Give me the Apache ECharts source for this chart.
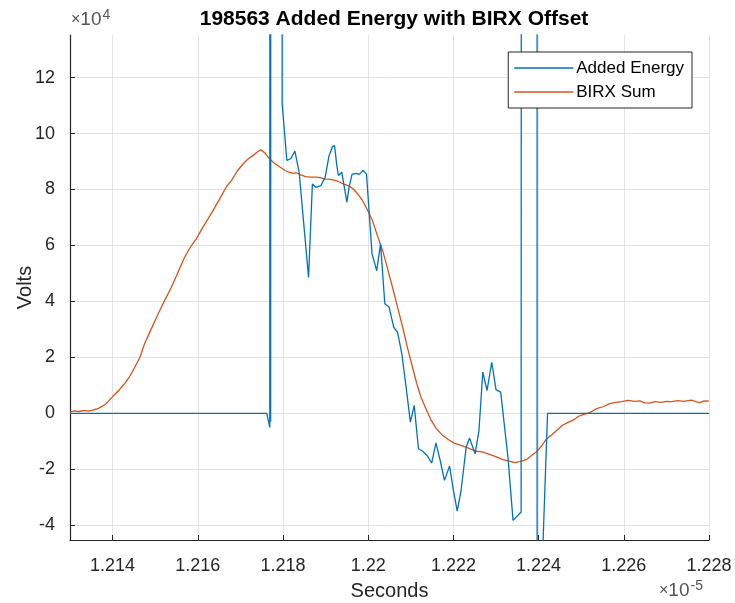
<!DOCTYPE html>
<html>
<head>
<meta charset="utf-8">
<script src="https://cdn.jsdelivr.net/npm/echarts@6/dist/echarts.min.js"></script>
<style>
  html, body { margin: 0; padding: 0; background: #ffffff; }
  #chart { width: 735px; height: 603px; }
</style>
</head>
<body>
<div id="chart"></div>
<script>
// Time axis in units of 1e-5 s (exponent shown separately as ×10^-5)
// Voltage in volts (axis labels shown in units of 1e4)

// Added Energy trace; ±1e6 marks the clipped excursions beyond the plot range
const energyTime = [
  1.21300, 1.21762, 1.21769, 1.21770, 1.21771, 1.21772, 1.21797, 1.21798,
  1.21809, 1.21818, 1.21828, 1.21838, 1.21860, 1.21869, 1.21877, 1.21889,
  1.21899, 1.21908, 1.21916, 1.21921, 1.21926, 1.21930, 1.21938, 1.21944,
  1.21950, 1.21955, 1.21962, 1.21971, 1.21979, 1.21988, 1.21996, 1.22009,
  1.22020, 1.22029, 1.22039, 1.22049, 1.22060, 1.22069, 1.22079, 1.22089,
  1.22099, 1.22108, 1.22118, 1.22128, 1.22138, 1.22149, 1.22159, 1.22169,
  1.22179, 1.22191, 1.22200, 1.22209, 1.22218, 1.22230, 1.22238, 1.22251,
  1.22260, 1.22269, 1.22279, 1.22290, 1.22300, 1.22311, 1.22328, 1.22340,
  1.22359, 1.22361, 1.22396, 1.22397, 1.22409, 1.22421, 1.22800
];
const energyVolts = [
  0, 0, -5000, 1000000, -3000, 1000000, 1000000, 110700,
  90400, 91000, 93700, 86000, 48600, 82000, 80800, 81400,
  84400, 92000, 95300, 95700, 89000, 85000, 86200, 80800,
  75500, 80800, 85400, 85800, 85400, 86800, 85600, 57000,
  51000, 60600, 39200, 38000, 30800, 29000, 21300, 9400,
  -3100, 2900, -12600, -13500, -15000, -17700, -10500, -16800,
  -23900, -18800, -27500, -34900, -27500, -12000, -8800, -14400,
  -6100, 14800, 8200, 18300, 8500, 7600, -15600, -38200,
  -35200, 1000000, 1000000, -1000000, -52000, 0, 0
];

// BIRX Sum trace
const birxTime = [
  1.21300, 1.21310, 1.21320, 1.21334, 1.21343, 1.21351, 1.21365, 1.21376, 1.21385, 1.21395,
  1.21405, 1.21416, 1.21428, 1.21440, 1.21452, 1.21464, 1.21475, 1.21489,
  1.21507, 1.21522, 1.21538, 1.21553, 1.21569, 1.21582, 1.21597, 1.21611,
  1.21624, 1.21640, 1.21656, 1.21667, 1.21679, 1.21693, 1.21707, 1.21718,
  1.21730, 1.21739, 1.21748, 1.21758, 1.21767, 1.21779, 1.21791, 1.21805,
  1.21814, 1.21824, 1.21831, 1.21840, 1.21853, 1.21865, 1.21877, 1.21889,
  1.21900, 1.21912, 1.21924, 1.21934, 1.21944, 1.21955, 1.21965, 1.21975,
  1.21987, 1.21998, 1.22010, 1.22021, 1.22034, 1.22045, 1.22057, 1.22069,
  1.22081, 1.22092, 1.22104, 1.22114, 1.22124, 1.22136, 1.22148, 1.22160,
  1.22175, 1.22188, 1.22202, 1.22216, 1.22230, 1.22242, 1.22253, 1.22268,
  1.22285, 1.22301, 1.22316, 1.22329, 1.22344, 1.22355, 1.22371, 1.22382,
  1.22395, 1.22406, 1.22418, 1.22431, 1.22445, 1.22456, 1.22468, 1.22482,
  1.22494, 1.22504, 1.22520, 1.22536, 1.22551, 1.22567, 1.22581, 1.22595,
  1.22610, 1.22624, 1.22638, 1.22649, 1.22661, 1.22673, 1.22687, 1.22700,
  1.22713, 1.22727, 1.22741, 1.22759, 1.22769, 1.22779, 1.22788, 1.22800
];
const birxVolts = [
  500, 900, 700, 1100, 800, 1100, 1700, 2600, 3500, 5200,
  6800, 8500, 10600, 13200, 16500, 20000, 24900, 29600,
  35600, 40300, 45100, 50300, 55800, 59300, 62500, 66300,
  69500, 73600, 77900, 81000, 83200, 86700, 89300, 90900,
  92200, 93300, 94200, 93000, 91200, 89500, 88200, 86800,
  86200, 85800, 86000, 85300, 84600, 84400, 84400, 84200,
  83700, 83600, 83200, 82600, 81800, 81300, 80200, 78500,
  76000, 72800, 68900, 63800, 58200, 52000, 45100, 37900,
  30800, 23600, 16500, 10700, 5800, 1500, -2500, -5400,
  -7900, -9300, -10600, -11300, -12000, -12800, -13500, -13700,
  -14600, -15500, -16500, -16900, -17600, -17200, -16500, -15200,
  -13700, -11800, -9200, -7600, -5700, -4200, -3300, -2300,
  -1000, -400, 300, 1700, 2400, 3500, 4000, 4200,
  4700, 4300, 4500, 3800, 3700, 4200, 4000, 4300,
  4200, 4600, 4300, 4800, 4200, 3900, 4500, 4400
];

const xTicks = [1.214, 1.216, 1.218, 1.220, 1.222, 1.224, 1.226, 1.228];
const yTicks = [-40000, -20000, 0, 20000, 40000, 60000, 80000, 100000, 120000];

const seriesNames = ['Added Energy', 'BIRX Sum'];
const titleText = '198563 Added Energy with BIRX Offset';

const FONT = '"Liberation Sans", Arial, Helvetica, sans-serif';
const AXIS_COLOR = '#262626';
const GRID_COLOR = '#e3e3e3';
const EXP_COLOR = '#555555';

const zip = (xs, ys) => xs.map((x, i) => [x, ys[i]]);

const chart = echarts.init(document.getElementById('chart'), null, { renderer: 'canvas' });

chart.setOption({
  animation: false,
  backgroundColor: '#ffffff',
  textStyle: { fontFamily: FONT },
  grid: { left: 70, right: 26, top: 35, bottom: 63, containLabel: false, outerBoundsMode: 'none' },
  title: {
    text: titleText,
    left: 389,
    top: 4,
    textAlign: 'center',
    textStyle: { fontFamily: FONT, fontSize: 21, fontWeight: 'bold', color: '#000000' }
  },
  legend: {
    orient: 'vertical',
    right: 43,
    top: 52,
    padding: [6, 8, 6, 6],
    backgroundColor: '#ffffff',
    borderColor: AXIS_COLOR,
    borderWidth: 1,
    borderRadius: 0,
    icon: 'rect',
    itemWidth: 59,
    itemHeight: 1.5,
    itemGap: 4,
    textStyle: { fontFamily: FONT, fontSize: 17, lineHeight: 20, color: '#000000', padding: [0, 0, 0, -2] },
    data: seriesNames
  },
  xAxis: {
    type: 'value',
    min: 1.213,
    max: 1.228,
    name: 'Seconds',
    nameLocation: 'middle',
    nameGap: 41,
    nameTextStyle: { fontFamily: FONT, fontSize: 20, color: AXIS_COLOR },
    axisLine: { show: true, onZero: false, lineStyle: { color: AXIS_COLOR, width: 1.2 } },
    axisTick: { show: true, inside: true, length: 5, customValues: xTicks, lineStyle: { color: AXIS_COLOR } },
    axisLabel: {
      customValues: xTicks,
      margin: 17,
      fontFamily: FONT, fontSize: 18, color: AXIS_COLOR,
      formatter: v => String(parseFloat(v.toFixed(3)))
    },
    splitLine: { show: true, lineStyle: { color: GRID_COLOR, width: 1 } }
  },
  yAxis: {
    type: 'value',
    min: -45200,
    max: 135200,
    name: 'Volts',
    nameLocation: 'middle',
    nameGap: 35,
    nameMoveOverlap: false,
    nameTextStyle: { fontFamily: FONT, fontSize: 20, color: AXIS_COLOR },
    axisLine: { show: true, onZero: false, lineStyle: { color: AXIS_COLOR, width: 1.2 } },
    axisTick: { show: true, inside: true, length: 5, customValues: yTicks, lineStyle: { color: AXIS_COLOR } },
    axisLabel: {
      customValues: yTicks,
      margin: 15,
      fontFamily: FONT, fontSize: 18, color: AXIS_COLOR,
      formatter: v => String(Math.round(v / 10000))
    },
    splitLine: { show: true, lineStyle: { color: GRID_COLOR, width: 1 } }
  },
  graphic: [
    {
      type: 'text',
      left: 71,
      top: 8,
      style: {
        text: '{m|×}{b|10}{s|4}',
        rich: {
          m: { fontFamily: FONT, fontSize: 16, fill: EXP_COLOR },
          b: { fontFamily: FONT, fontSize: 19, fill: EXP_COLOR },
          s: { fontFamily: FONT, fontSize: 14, fill: EXP_COLOR, padding: [0, 0, 9, 1] }
        }
      }
    },
    {
      type: 'text',
      left: 659,
      top: 579,
      style: {
        text: '{m|×}{b|10}{s|-5}',
        rich: {
          m: { fontFamily: FONT, fontSize: 16, fill: EXP_COLOR },
          b: { fontFamily: FONT, fontSize: 19, fill: EXP_COLOR },
          s: { fontFamily: FONT, fontSize: 14, fill: EXP_COLOR, padding: [0, 0, 9, 1] }
        }
      }
    }
  ],
  series: [
    {
      name: seriesNames[0],
      type: 'line',
      data: zip(energyTime, energyVolts),
      symbol: 'none',
      clip: true,
      lineStyle: { color: '#0072BD', width: 1.3 },
      itemStyle: { color: '#0072BD' },
      z: 3
    },
    {
      name: seriesNames[1],
      type: 'line',
      data: zip(birxTime, birxVolts),
      symbol: 'none',
      clip: true,
      lineStyle: { color: '#D95319', width: 1.3 },
      itemStyle: { color: '#D95319' },
      z: 2
    }
  ]
});
</script>
</body>
</html>
